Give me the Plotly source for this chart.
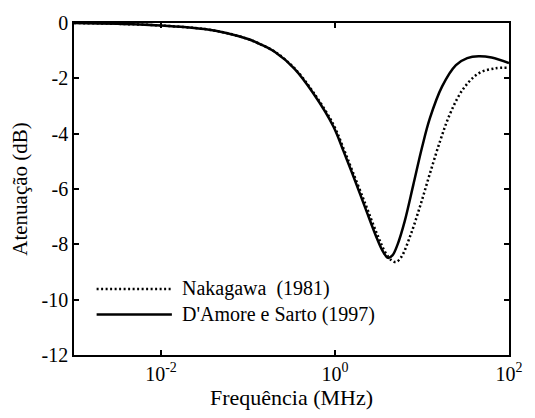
import plotly.graph_objects as go

# Frequency (MHz), log10 positions
nak_logf = [-3.0, -2.5, -2.0, -1.5, -1.25, -1.0, -0.85, -0.69, -0.47, -0.25, -0.02, 0.10, 0.20, 0.35,
            0.48, 0.58, 0.65, 0.70, 0.76, 0.87, 0.98, 1.09, 1.21, 1.32, 1.47, 1.65, 1.84, 2.0]
nak_db = [0.0, -0.03, -0.09, -0.22, -0.36, -0.58, -0.78, -1.04, -1.62, -2.50, -3.66, -4.55, -5.35, -6.55,
          -7.60, -8.30, -8.58, -8.64, -8.47, -7.65, -6.60, -5.45, -4.25, -3.30, -2.40, -1.82, -1.64, -1.62]

dam_logf = [-3.0, -2.5, -2.0, -1.5, -1.25, -1.0, -0.85, -0.69, -0.47, -0.25, -0.02, 0.10, 0.20, 0.35,
            0.48, 0.55, 0.61, 0.66, 0.72, 0.80, 0.90, 1.00, 1.09, 1.23, 1.39, 1.52, 1.65, 1.80, 2.0]
dam_db = [0.0, -0.03, -0.09, -0.22, -0.36, -0.58, -0.78, -1.05, -1.64, -2.54, -3.73, -4.65, -5.45, -6.70,
          -7.77, -8.25, -8.49, -8.40, -8.00, -7.18, -5.85, -4.50, -3.45, -2.30, -1.52, -1.27, -1.20, -1.25, -1.45]

nak_f = [10 ** v for v in nak_logf]
dam_f = [10 ** v for v in dam_logf]

x_tickvals = [0.01, 1, 100]
x_ticktext = ["10<sup>-2</sup>", "10<sup>0</sup>", "10<sup>2</sup>"]
y_tickvals = [0, -2, -4, -6, -8, -10, -12]
y_ticktext = ["0", "-2", "-4", "-6", "-8", "-10", "-12"]

labels = ["Nakagawa  (1981)", "D'Amore e Sarto (1997)"]

FONT = "Liberation Serif"

fig = go.Figure()
fig.add_trace(go.Scatter(x=nak_f, y=nak_db, mode="lines", name=labels[0],
                         line=dict(color="black", width=2.5, dash="2px,2.5px", shape="spline", smoothing=1.0),
                         showlegend=False))
fig.add_trace(go.Scatter(x=dam_f, y=dam_db, mode="lines", name=labels[1],
                         line=dict(color="black", width=2.5, shape="spline", smoothing=1.0),
                         showlegend=False))

# manual legend
leg_y = [0.199, 0.122]
dashes = ["2px,2.5px", "solid"]
for yy, lab, d in zip(leg_y, labels, dashes):
    fig.add_shape(type="line", xref="paper", yref="paper", x0=0.052, x1=0.225, y0=yy, y1=yy,
                  line=dict(color="black", width=2.5, dash=d))
    fig.add_annotation(xref="paper", yref="paper", x=0.243, y=yy, text=lab, showarrow=False,
                       xanchor="left", yanchor="middle", font=dict(family=FONT, size=20, color="black"))

fig.update_layout(
    width=535, height=418,
    margin=dict(l=74, r=16, t=19, b=63),
    paper_bgcolor="white", plot_bgcolor="white",
    font=dict(family=FONT, size=20, color="black"),
    xaxis=dict(type="log", range=[-3, 2], tickvals=x_tickvals, ticktext=x_ticktext,
               tickfont=dict(family=FONT, size=20, color="black"),
               ticks="inside", ticklen=5, tickwidth=1.5, tickcolor="black",
               showline=True, linecolor="black", linewidth=1.5, mirror="ticks",
               showgrid=False, zeroline=False,
               title=dict(text="Frequência (MHz)", standoff=6, font=dict(family=FONT, size=22, color="black"))),
    yaxis=dict(range=[-12, 0], tickvals=y_tickvals, ticktext=y_ticktext,
               tickfont=dict(family=FONT, size=20, color="black"),
               ticks="inside", ticklen=5, tickwidth=1.5, tickcolor="black",
               showline=True, linecolor="black", linewidth=1.5, mirror="ticks",
               showgrid=False, zeroline=False,
               title=dict(text="Atenuação (dB)", standoff=8, font=dict(family=FONT, size=21, color="black"))),
)

fig.write_html("out.html")
